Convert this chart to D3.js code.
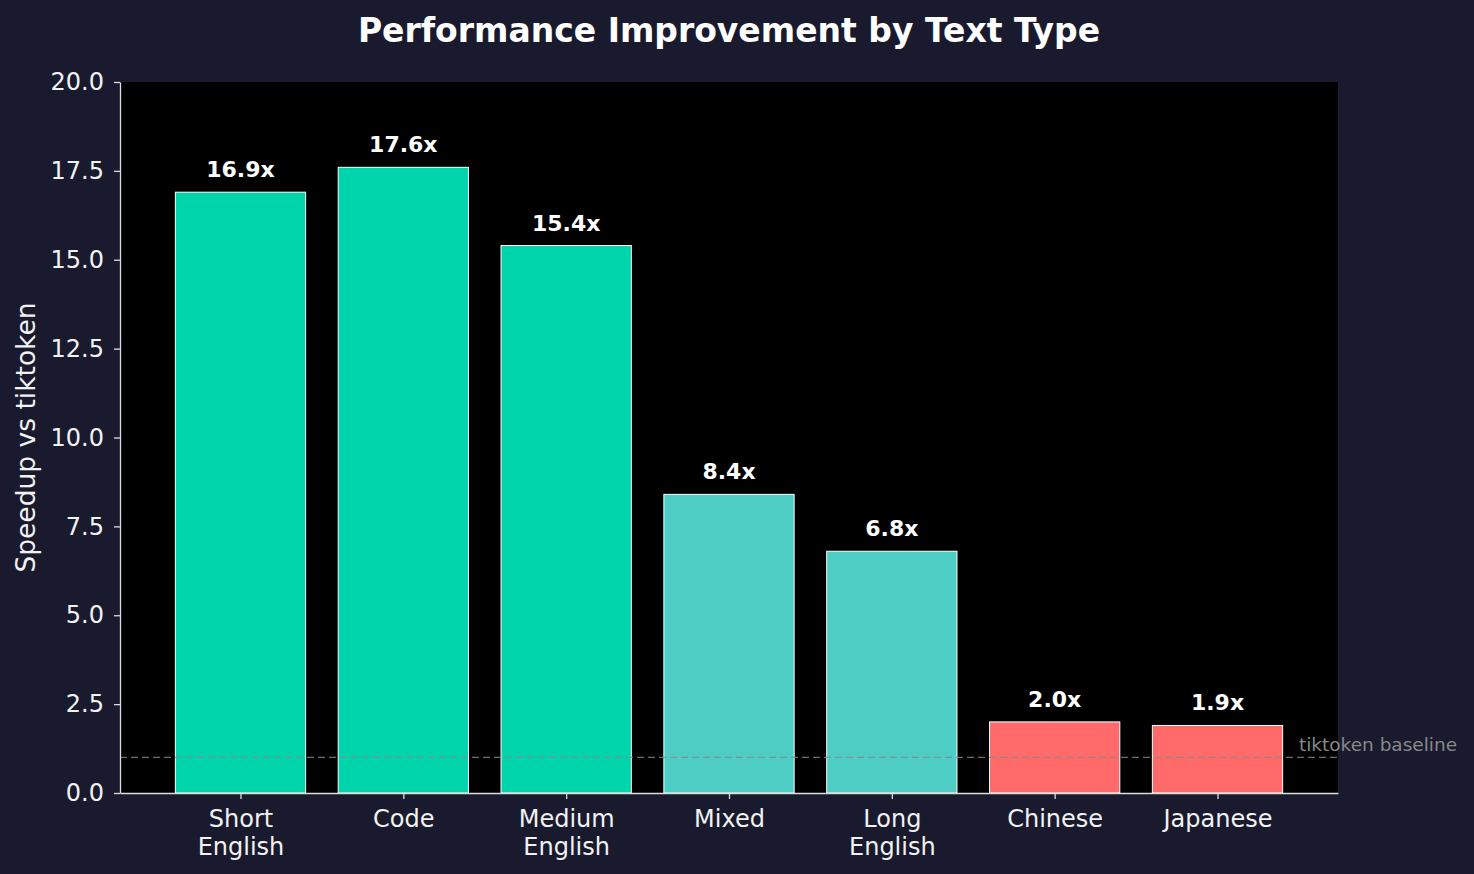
<!DOCTYPE html>
<html>
<head>
<meta charset="utf-8">
<script src="https://cdn.jsdelivr.net/npm/d3@7"></script>
<style>
  body { margin: 0; background: #1a1a2e; }
  text { font-family: "DejaVu Sans", sans-serif; }
</style>
</head>
<body>
<div id="chart"></div>
<script>
// chart data
const categories = ["Short\nEnglish", "Code", "Medium\nEnglish", "Mixed", "Long\nEnglish", "Chinese", "Japanese"];
const speedups = [16.9, 17.6, 15.4, 8.4, 6.8, 2.0, 1.9];
const barColors = ["#00d4aa", "#00d4aa", "#00d4aa", "#4ecdc4", "#4ecdc4", "#ff6b6b", "#ff6b6b"];
const yTicks = [0, 2.5, 5, 7.5, 10, 12.5, 15, 17.5, 20];
const baselineValue = 1.0;

const W = 1474, H = 874;
const margin = {top: 82, right: 136, bottom: 81, left: 120};
const width = W - margin.left - margin.right,
      height = H - margin.top - margin.bottom;

const textColor = "#f2f2f2";
const spineColor = "#dddddd";

const svg = d3.select("#chart")
    .append("svg")
    .attr("width", W)
    .attr("height", H);

svg.append("rect")
    .attr("width", W).attr("height", H)
    .attr("fill", "#1a1a2e");

const g = svg.append("g")
    .attr("transform", `translate(${margin.left},${margin.top})`);

// axes background
g.append("rect")
    .attr("width", width).attr("height", height)
    .attr("fill", "#000000");

// x scale, matplotlib style: bar positions 0..n-1 with 5% margins
const n = categories.length;
const xLin = d3.scaleLinear()
    .domain([-0.4 - 0.34, n - 1 + 0.4 + 0.34])
    .range([0, width]);
const barW = xLin(0.8) - xLin(0);

const yScale = d3.scaleLinear()
    .domain([0, 20])
    .range([height, 0]);

// bars
g.selectAll(".bar")
    .data(speedups)
    .join("rect")
    .attr("class", "bar")
    .attr("x", (d, i) => xLin(i) - barW / 2)
    .attr("y", d => yScale(d))
    .attr("width", barW)
    .attr("height", d => height - yScale(d))
    .attr("fill", (d, i) => barColors[i])
    .attr("stroke", "#ffffff")
    .attr("stroke-width", 1);

// value labels
g.selectAll(".val")
    .data(speedups)
    .join("text")
    .attr("class", "val")
    .attr("x", (d, i) => xLin(i))
    .attr("y", d => yScale(d) - 15)
    .attr("text-anchor", "middle")
    .attr("fill", "#ffffff")
    .attr("font-size", "22px")
    .attr("font-weight", "bold")
    .text(d => d.toFixed(1) + "x");

// baseline
g.append("line")
    .attr("x1", 0).attr("x2", width)
    .attr("y1", yScale(baselineValue)).attr("y2", yScale(baselineValue))
    .attr("stroke", "#888888")
    .attr("stroke-opacity", 0.8)
    .attr("stroke-width", 1.3)
    .attr("stroke-dasharray", "7,4");

g.append("text")
    .attr("x", xLin(n - 1 + 0.5))
    .attr("y", yScale(baselineValue) - 6)
    .attr("fill", "#888888")
    .attr("font-size", "18.5px")
    .text("tiktoken baseline");

// y axis
const yAxis = d3.axisLeft(yScale)
    .tickValues(yTicks)
    .tickFormat(d3.format(".1f"))
    .tickSize(6)
    .tickSizeOuter(0)
    .tickPadding(10);
const yAxisGroup = g.append("g").call(yAxis);
yAxisGroup.select(".domain").attr("stroke", spineColor).attr("stroke-width", 1.3);
yAxisGroup.selectAll(".tick line").attr("stroke", spineColor).attr("stroke-width", 1.3);
yAxisGroup.selectAll(".tick text")
    .attr("fill", textColor)
    .attr("font-size", "24px")
    .attr("font-family", "DejaVu Sans");

// x axis
const xAxis = d3.axisBottom(xLin)
    .tickValues(d3.range(n))
    .tickFormat("")
    .tickSize(6)
    .tickSizeOuter(0);
const xAxisGroup = g.append("g")
    .attr("transform", `translate(0,${height})`)
    .call(xAxis);
xAxisGroup.select(".domain").attr("stroke", spineColor).attr("stroke-width", 1.3);
xAxisGroup.selectAll(".tick line").attr("stroke", spineColor).attr("stroke-width", 1.3);

xAxisGroup.selectAll(".tick")
    .append("text")
    .attr("fill", textColor)
    .attr("font-size", "24px")
    .attr("font-family", "DejaVu Sans")
    .attr("text-anchor", "middle")
    .each(function(d) {
        const lines = categories[d].split("\n");
        d3.select(this).selectAll("tspan")
            .data(lines)
            .join("tspan")
            .attr("x", 0)
            .attr("y", (l, j) => 34 + j * 28)
            .text(l => l);
    });

// y label
svg.append("text")
    .attr("transform", `translate(35,${margin.top + height / 2}) rotate(-90)`)
    .attr("text-anchor", "middle")
    .attr("fill", textColor)
    .attr("font-size", "26.5px")
    .text("Speedup vs tiktoken");

// title
svg.append("text")
    .attr("x", margin.left + width / 2)
    .attr("y", 42)
    .attr("text-anchor", "middle")
    .attr("fill", "#ffffff")
    .attr("font-size", "33px")
    .attr("font-weight", "bold")
    .text("Performance Improvement by Text Type");
</script>
</body>
</html>
